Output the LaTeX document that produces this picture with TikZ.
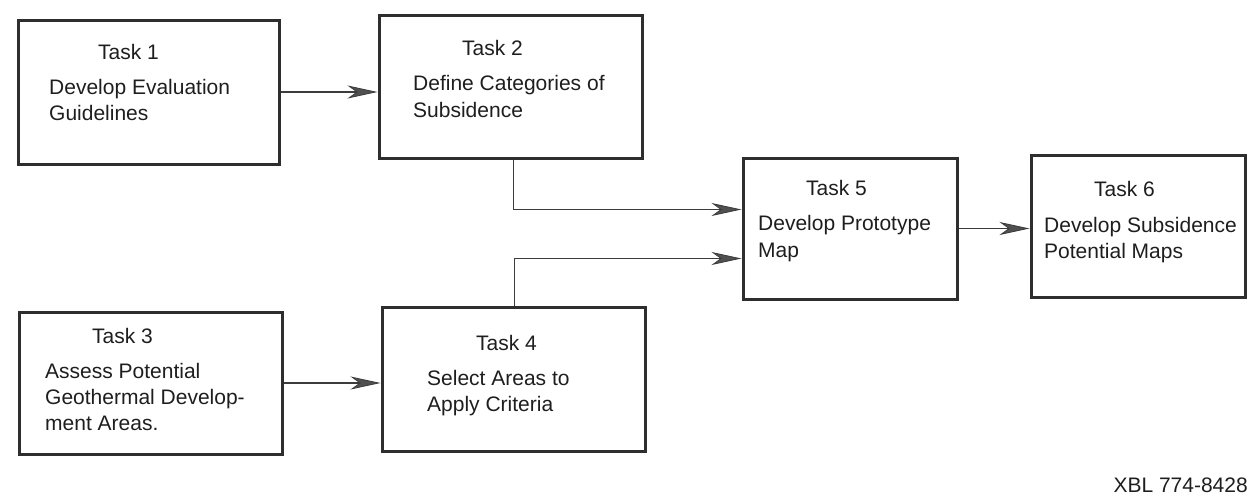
\documentclass[tikz,border=0pt]{standalone}
\usepackage{fontspec}
\setmainfont{Liberation Sans}
\usetikzlibrary{arrows.meta,calc}
\definecolor{boxcol}{HTML}{2E2E2E}
\definecolor{linecol}{HTML}{3C3C3C}
\definecolor{arrcol}{HTML}{505050}
\definecolor{txtcol}{HTML}{1E1E1E}
\begin{document}
\begin{tikzpicture}[x=1pt,y=-1pt,
  box/.style={draw=boxcol, line width=3pt, rectangle, inner sep=0pt, anchor=north west},
  lbl/.style={anchor=base west, inner sep=0pt, font=\fontsize{21}{26}\selectfont, text=txtcol},
  conn/.style={draw=linecol, line width=1.4pt, -{Stealth[length=30pt,width=13pt,inset=9pt,fill=arrcol,line width=0.8pt]}}]
\useasboundingbox (0,0) rectangle (1254,498);
% boxes
\node[box, minimum width=261pt, minimum height=144pt] (b1) at (16.5,18.5) {};
\node[box, minimum width=263pt, minimum height=143pt] (b2) at (377.5,13.5) {};
\node[box, minimum width=263pt, minimum height=142pt] (b3) at (17.5,310.5) {};
\node[box, minimum width=263pt, minimum height=144pt] (b4) at (380.5,305.5) {};
\node[box, minimum width=214pt, minimum height=141pt] (b5) at (741.5,156.5) {};
\node[box, minimum width=214pt, minimum height=142pt] (b6) at (1029.5,153.5) {};
% texts
\node[lbl] (t1h) at (98,59.5) {Task 1};
\node[lbl] (t1a) at (49,94.5) {Develop Evaluation};
\node[lbl] (t1b) at (49,120.5) {Guidelines};
\node[lbl] (t2h) at (462,55.5) {Task 2};
\node[lbl] (t2a) at (413,90.5) {Define Categories of};
\node[lbl] (t2b) at (413,117.5) {Subsidence};
\node[lbl] (t3h) at (92,343.5) {Task 3};
\node[lbl] (t3a) at (45,378.5) {Assess Potential};
\node[lbl] (t3b) at (45,404.5) {Geothermal Develop-};
\node[lbl] (t3c) at (45,430.5) {ment Areas.};
\node[lbl] (t4h) at (476,350.5) {Task 4};
\node[lbl] (t4a) at (427,385.5) {Select Areas to};
\node[lbl] (t4b) at (427,411.5) {Apply Criteria};
\node[lbl] (t5h) at (806,195.5) {Task 5};
\node[lbl] (t5a) at (758,230.5) {Develop Prototype};
\node[lbl] (t5b) at (758,257.5) {Map};
\node[lbl] (t6h) at (1094,196.5) {Task 6};
\node[lbl] (t6a) at (1044,232.5) {Develop Subsidence};
\node[lbl] (t6b) at (1044,258.5) {Potential Maps};
\node[lbl, anchor=base east] (xbl) at (1248,492.5) {XBL 774-8428};
% connectors
\draw[conn] (b1.east) -- (b1.east -| b2.west);
\draw[conn] (b3.east) -- (b3.east -| b4.west);
\draw[conn] (b5.east) -- (b5.east -| b6.west);
\draw[conn] ([xshift=3pt]b2.south) |- ([yshift=19pt]b5.west);
\draw[conn] ([xshift=1pt]b4.north) |- ([yshift=-30pt]b5.west);
\end{tikzpicture}
\end{document}
